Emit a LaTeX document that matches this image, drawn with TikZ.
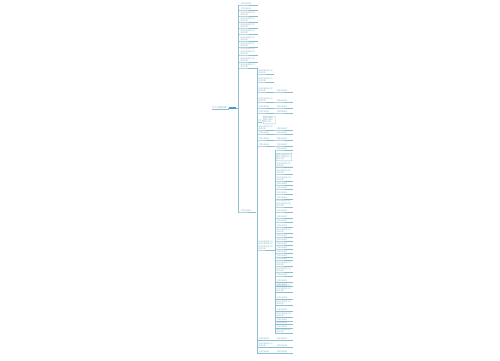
\documentclass[tikz,border=0pt]{standalone}
\usepackage{fontspec}
\newfontfamily\cjkfont{Noto Sans CJK SC}
\usetikzlibrary{positioning}
\definecolor{linec}{HTML}{8DBFD0}
\definecolor{textc}{HTML}{8AAFBE}
\definecolor{rootc}{HTML}{4A9CC4}
\tikzset{
  topic/.style={anchor=south west, inner xsep=0.3bp, inner ysep=0.4bp, text width=16bp,
    font=\cjkfont\fontsize{1.8}{2.2}\selectfont, text=textc, align=left},
  boxed/.style={topic, draw=linec, line width=0.3bp, rounded corners=0.5bp, inner sep=0.8bp},
  branch/.style={draw=linec, line width=0.35bp}
}
\newcommand{\filler}[1]{\ifcase#1\or 主要内容说明\or 相关内容说明文字\\具体内容\or 相关内容说明文字\\相关内容说明文字\\具体内容\or 相关内容说明文字\\相关内容说明文字\\相关内容说明文字\\具体内容\fi}
\begin{document}
\begin{tikzpicture}[x=1bp, y=-1bp]
  \useasboundingbox (0,0) rectangle (500,360);
  % root
  \node[fill=rootc, minimum width=7bp, minimum height=2.6bp, inner sep=0] (box) at (232.5,108) {};
  \node[topic, anchor=east, text width=15bp, font=\cjkfont\fontsize{2.4}{2.8}\selectfont] (root) at (228,107.6) {中心主题内容};
  \draw[branch] (root.south west) -- (root.south east) |- (box.west);

  % first level
  \foreach \y/\n [count=\i] in {5/1,10/1,16/2,22/2,28/2,34/2,41/2,47/2,55/3,62/2}
  {
    \node[topic, text width=17bp] (a\i) at (240,\y) {\filler{\n}};
    \draw[branch] (box.east) -- ++(2,0) |- (a\i.south west) -- (a\i.south east);
  }
  \node[topic, text width=15bp] (b1) at (240,68) {\filler{2}};
  \node[topic, text width=15bp] (b2) at (240,212) {\filler{1}};
  \foreach \nd in {b1, b2}
    \draw[branch] (box.east) -- ++(2,0) |- (\nd.south west) -- (\nd.south east);

  % second level
  \foreach \nm/\y/\n in {c1/74/2, c2/82/2, c3/92/2, c4/102/2, c5/108/1, c6/113/1,
      c8/130/2, c9/134/1, c10/140/1, c11/146/1, c12/250/4, c13/340/1, c14/347/2, c15/353/1}
  {
    \node[topic, text width=14.5bp] (\nm) at (258,\y) {\filler{\n}};
    \draw[branch] (b1.south east) -- ++(1,0) |- (\nm.south west) -- (\nm.south east);
  }
  \node[topic, text width=3.6bp, inner xsep=0.1bp] (c7) at (257.6,122) {主要};
  \draw[branch] (b1.south east) -- ++(1,0) |- (c7.south west) -- (c7.south east);

  % single leaves
  \foreach \pa/\y in {c3/92, c4/102, c5/108, c6/113, c8/130, c9/134, c10/140, c11/146,
      c13/340, c14/347, c15/353}
  {
    \node[topic] (e-\pa) at (276,\y) {\filler{1}};
    \draw[branch] (\pa.south east) -- (e-\pa.south west) -- (e-\pa.south east);
  }
  \node[boxed, text width=10.5bp] (e-c7) at (263,124) {相关内容说\\相关内容说\\具体内容};
  \draw[branch] (c7.south east) -- (e-c7.west);

  % third level
  \node[boxed, text width=14bp] (d0) at (276,161) {\filler{3}};
  \draw[branch] (c12.south east) -- ++(1.5,0) |- (d0.west);
  \foreach \y/\n [count=\i] in {150/1,167/2,174/3,181/2,185/1,189/1,194/1,199/1,207/3,
      212/1,218/1,222/1,227/1,233/2,237/1,241/1,245/1,249/1,253/1,257/1,260/1,266/2,272/2,
      276/1,282/1,286/1,292/3,299/1,305/2,311/1,317/2,321/1,324/1,328/1,333/2}
  {
    \node[topic] (d\i) at (276,\y) {\filler{\n}};
    \draw[branch] (c12.south east) -- ++(1.5,0) |- (d\i.south west) -- (d\i.south east);
  }
\end{tikzpicture}
\end{document}
